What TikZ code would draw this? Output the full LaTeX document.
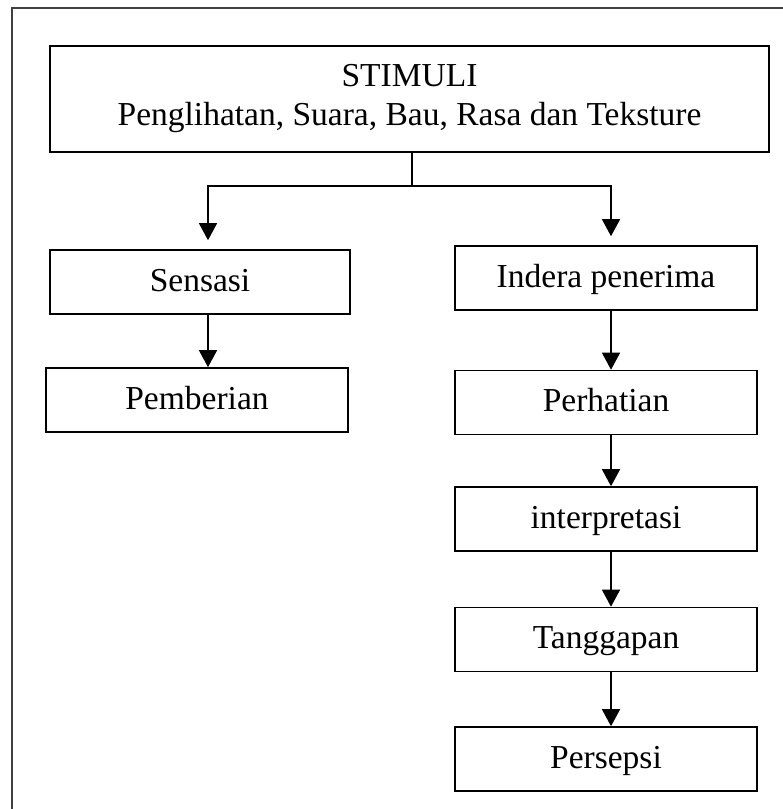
\documentclass[tikz,border=0pt]{standalone}
\usepackage{fontspec}
\setmainfont{Liberation Serif}
\usetikzlibrary{arrows.meta}

\begin{document}
\begin{tikzpicture}[x=1pt,y=-1pt,
  box/.style={draw,line width=1.6pt,inner sep=0pt,minimum width=302pt,minimum height=64pt,
    text height=24pt,text depth=6pt,font=\fontsize{33.5}{39}\selectfont},
  arr/.style={line width=1.4pt,-{Triangle[width=18pt,length=17pt]}}]
\useasboundingbox (0,0) rectangle (783,809);
\draw[line width=1.6pt,black!75] (783,8) -- (12,8) -- (12,809);
\node[box,minimum width=719pt,minimum height=106pt,text height=,text depth=,align=center] (stim) at (409.5,99)
  {STIMULI\\Penglihatan, Suara, Bau, Rasa dan Teksture};
\node[box,minimum width=300pt] (sensasi) at (200,282) {Sensasi};
\node[box] (pemberian) at (197,400) {Pemberian};
\node[box] (indera) at (606,278) {Indera penerima};
\node[box] (perhatian) at (606,402.5) {Perhatian};
\node[box] (interp) at (606,519) {interpretasi};
\node[box] (tanggapan) at (606,639.5) {Tanggapan};
\node[box] (persepsi) at (606,759) {Persepsi};
\coordinate (split) at (412,186);
\coordinate (lbend) at (208,186);
\coordinate (rbend) at (611,186);
\draw[line width=1.4pt] (stim.south -| split) -- (split);
\draw[arr] (split) -- (lbend) -- ([yshift=9pt]lbend |- sensasi.north);
\draw[arr] (split) -- (rbend) -- ([yshift=9pt]rbend |- indera.north);
\draw[arr] (lbend |- sensasi.south) -- (lbend |- pemberian.north);
\foreach \a/\b in {indera/perhatian,perhatian/interp,interp/tanggapan,tanggapan/persepsi}
  \draw[arr] (rbend |- \a.south) -- (rbend |- \b.north);
\end{tikzpicture}
\end{document}
